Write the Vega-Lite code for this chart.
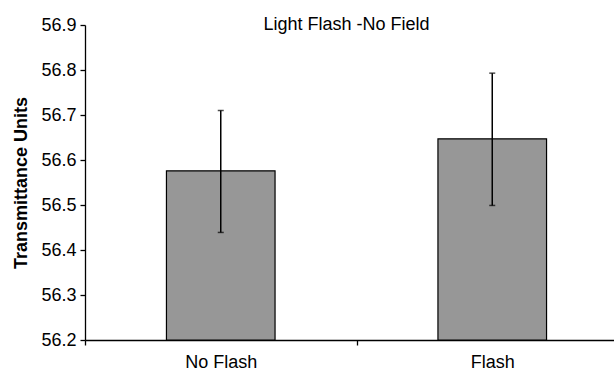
{
  "$schema": "https://vega.github.io/schema/vega-lite/v6.json",
  "autosize": "none",
  "padding": {"left": 85, "top": 25, "right": 0, "bottom": 30},
  "width": 543,
  "height": 315,
  "background": "white",
  "config": {
    "view": {"stroke": null},
    "font": "Liberation Sans",
    "axis": {"grid": false, "domainColor": "black", "tickColor": "black", "labelColor": "black", "titleColor": "black", "labelFont": "Liberation Sans", "titleFont": "Liberation Sans", "labelFontSize": 18, "titleFontSize": 18, "domainWidth": 1.3, "tickWidth": 1.3}
  },
  "title": {"text": "Light Flash -No Field", "font": "Liberation Sans", "fontSize": 18, "fontWeight": "normal", "color": "black", "anchor": "middle", "baseline": "alphabetic", "offset": -32, "dx": -10},
  "data": {"values": [
    {"cond": "No Flash", "mean": 56.576, "lo": 56.439, "hi": 56.710},
    {"cond": "Flash", "mean": 56.647, "lo": 56.499, "hi": 56.793}
  ]},
  "encoding": {
    "x": {"field": "cond", "type": "nominal", "sort": ["No Flash", "Flash"], "scale": {"paddingInner": 0, "paddingOuter": 0},
      "axis": {"title": null, "labelAngle": 0, "tickBand": "extent", "tickSize": 5, "labelPadding": 8}}
  },
  "layer": [
    {
      "mark": {"type": "bar", "width": {"band": 0.4}, "fill": "#979797", "stroke": "black", "strokeWidth": 1.2},
      "encoding": {
        "y": {"field": "mean", "type": "quantitative", "scale": {"domain": [56.2, 56.9], "zero": false, "nice": false},
          "axis": {"title": "Transmittance Units", "titleFontWeight": "bold", "values": [56.2, 56.3, 56.4, 56.5, 56.6, 56.7, 56.8, 56.9], "format": ".1f", "tickSize": 5, "labelPadding": 4, "titlePadding": 10}},
        "y2": {"datum": 56.2}
      }
    },
    {
      "mark": {"type": "rule", "color": "black", "strokeWidth": 1.5},
      "encoding": {
        "y": {"field": "lo", "type": "quantitative"},
        "y2": {"field": "hi"}
      }
    },
    {
      "mark": {"type": "tick", "color": "black", "size": 6, "thickness": 1.5},
      "encoding": {"y": {"field": "lo", "type": "quantitative"}}
    },
    {
      "mark": {"type": "tick", "color": "black", "size": 6, "thickness": 1.5},
      "encoding": {"y": {"field": "hi", "type": "quantitative"}}
    }
  ]
}
